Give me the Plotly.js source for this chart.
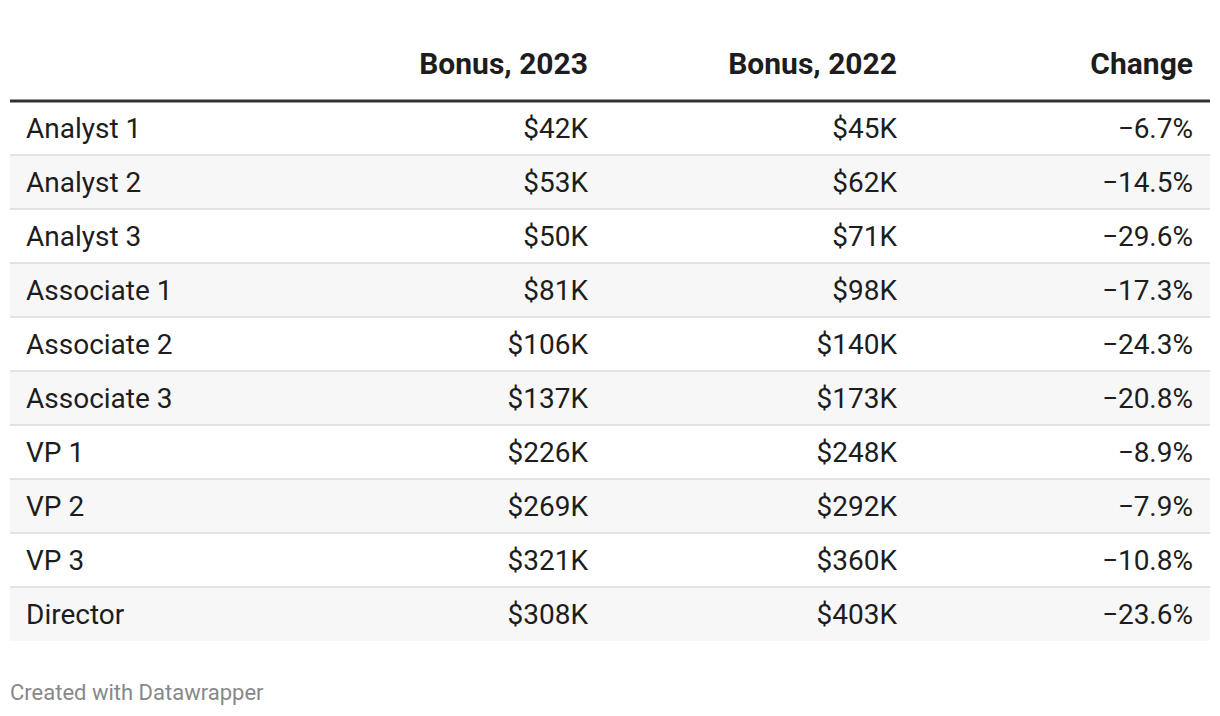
<!DOCTYPE html>
<html>
<head>
<meta charset="utf-8">
<script src="https://cdn.plot.ly/plotly-3.0.1.min.js"></script>
<style>
  body { margin: 0; background: #fff; }
  #table-plot { width: 1220px; height: 716px; }
</style>
</head>
<body>
<div id="table-plot"></div>
<script>
// table values
var roles = ["Analyst 1", "Analyst 2", "Analyst 3", "Associate 1", "Associate 2",
             "Associate 3", "VP 1", "VP 2", "VP 3", "Director"];
var bonus2023 = [42, 53, 50, 81, 106, 137, 226, 269, 321, 308];   // $K
var bonus2022 = [45, 62, 71, 98, 140, 173, 248, 292, 360, 403];   // $K
var change = [-6.7, -14.5, -29.6, -17.3, -24.3, -20.8, -8.9, -7.9, -10.8, -23.6]; // %
var headers = ["", "Bonus, 2023", "Bonus, 2022", "Change"];

var rowIdx = roles.map((r, i) => i);
var fmtMoney = v => "$" + v + "K";
var fmtPct = v => (v < 0 ? "\u2212" : "") + Math.abs(v).toFixed(1) + "%";

var txtFont = {family: "Roboto, sans-serif", size: 28, color: "#1d1d1d"};
var headFont = {family: "Roboto, sans-serif", size: 30, color: "#1d1d1d", weight: 700};

// column anchor positions on the x axis (0..1200 across the table)
var colX = [16, 578, 887, 1183];
var textNudge = 0.05; // text sits a touch below row centre

function textCol(x, vals, pos) {
  return {
    x: rowIdx.map(() => x), y: rowIdx.map(i => i + textNudge), text: vals,
    mode: "text", type: "scatter", textposition: pos,
    textfont: txtFont, hoverinfo: "skip", showlegend: false, cliponaxis: false
  };
}

// striped row backgrounds
var stripes = {
  type: "bar", orientation: "h",
  y: rowIdx, x: rowIdx.map(() => 1200), base: 0, width: 1,
  marker: {color: rowIdx.map(i => i % 2 ? "#f7f7f7" : "#ffffff"), line: {width: 0}},
  hoverinfo: "skip", showlegend: false
};

var header = {
  x: colX.slice(1), y: [-1.14, -1.14, -1.14], text: headers.slice(1),
  mode: "text", type: "scatter", textposition: "middle left",
  textfont: headFont, hoverinfo: "skip", showlegend: false, cliponaxis: false
};

var data = [
  stripes,
  textCol(colX[0], roles, "middle right"),
  textCol(colX[1], bonus2023.map(fmtMoney), "middle left"),
  textCol(colX[2], bonus2022.map(fmtMoney), "middle left"),
  textCol(colX[3], change.map(fmtPct), "middle left"),
  header
];

var shapes = [{type: "line", xref: "paper", x0: 0, x1: 1, yref: "y", y0: -0.5, y1: -0.5,
               line: {color: "#333333", width: 3}}];
for (var i = 0; i < roles.length - 1; i++) {
  shapes.push({type: "line", xref: "paper", x0: 0, x1: 1, yref: "y", y0: i + 0.5, y1: i + 0.5,
               line: {color: "#e3e3e3", width: 2}});
}

var layout = {
  width: 1220, height: 716,
  margin: {l: 10, r: 10, t: 0, b: 75},
  paper_bgcolor: "#ffffff", plot_bgcolor: "#ffffff",
  bargap: 0,
  xaxis: {range: [0, 1200], visible: false, fixedrange: true},
  yaxis: {range: [9.5, -2.3704], visible: false, fixedrange: true},
  shapes: shapes,
  annotations: [{
    text: "Created with Datawrapper", xref: "paper", yref: "paper",
    x: 0, y: -0.08, xanchor: "left", yanchor: "middle", xshift: -2, showarrow: false,
    font: {family: "Roboto, sans-serif", size: 22, color: "#888888"}
  }]
};

Plotly.newPlot("table-plot", data, layout, {displayModeBar: false, staticPlot: true});
</script>
</body>
</html>
